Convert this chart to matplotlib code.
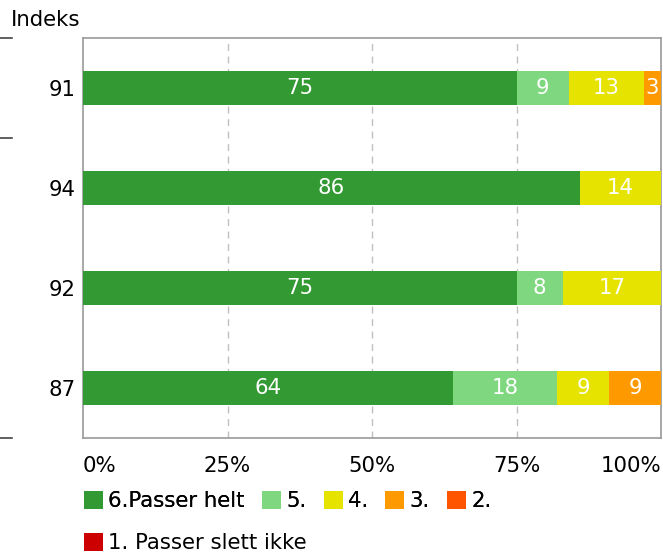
import matplotlib.pyplot as plt
from matplotlib.lines import Line2D
from matplotlib.patches import Patch

categories = ["91", "94", "92", "87"]
series_names = ["6.Passer helt", "5.", "4.", "3.", "2.", "1. Passer slett ikke"]
colors = ["#339933", "#7fd87f", "#e6e300", "#ff9900", "#ff5500", "#cc0000"]
values = [
    [75, 86, 75, 64],   # 6.Passer helt
    [9, 0, 8, 18],      # 5.
    [13, 14, 17, 9],    # 4.
    [3, 0, 0, 9],       # 3.
    [0, 0, 0, 0],       # 2.
    [0, 0, 0, 0],       # 1. Passer slett ikke
]
xticks = [0, 25, 50, 75, 100]
xtick_labels = ["0%", "25%", "50%", "75%", "100%"]

plt.rcParams['font.family'] = ['DejaVu Sans']
FS = 15.3

fig = plt.figure(figsize=(6.63, 5.55), dpi=100)
ax = fig.add_axes([83 / 663, 1 - 438 / 555, (661 - 83) / 663, 400 / 555])

ypos = list(range(len(categories)))
left = [0] * len(categories)
for name, vals, col in zip(series_names, values, colors):
    bars = ax.barh(ypos, vals, left=left, height=0.34, color=col, label=name, zorder=3)
    for b, v in zip(bars, vals):
        if v > 0:
            ax.text(b.get_x() + b.get_width() / 2, b.get_y() + b.get_height() / 2, str(v),
                    ha="center", va="center", color="white", fontsize=FS, zorder=4)
    left = [l + v for l, v in zip(left, vals)]

ax.set_xlim(0, 100)
ax.set_ylim(3.5, -0.5)
ax.set_yticks(ypos)
ax.set_yticklabels(categories, fontsize=FS)
ax.set_xticks(xticks)
ax.set_xticklabels(xtick_labels, fontsize=FS)
ax.tick_params(axis="y", length=0, pad=5.5)
ax.tick_params(axis="x", length=0, pad=13)
labels = ax.get_xticklabels()
labels[0].set_ha("left")
labels[-1].set_ha("right")

for x in [25, 50, 75]:
    ax.axvline(x, color="#c0c0c0", linestyle=(0, (5, 4)), linewidth=1, zorder=1)
for s in ax.spines.values():
    s.set_color("#999999")
    s.set_linewidth(1.2)

fig.text(11 / 663, 1 - 20 / 555, "Indeks", fontsize=FS, ha="left", va="center")

# short marks at far left
for yy in [38, 138, 438]:
    fig.add_artist(Line2D([0, 12 / 663], [1 - yy / 555, 1 - yy / 555],
                          color="#444444", linewidth=1.2))

handles = [Patch(facecolor=c, edgecolor="none") for c in colors]
leg1 = fig.legend(handles[:5], series_names[:5], loc="center left",
                  bbox_to_anchor=(84 / 663, 1 - 501 / 555), ncol=5, frameon=False,
                  fontsize=FS, handlelength=0.9, handleheight=0.9,
                  handletextpad=0.25, columnspacing=0.8, borderpad=0, borderaxespad=0)
fig.add_artist(leg1)
fig.legend(handles[5:], series_names[5:], loc="center left",
           bbox_to_anchor=(84 / 663, 1 - 543 / 555), ncol=1, frameon=False,
           fontsize=FS, handlelength=0.9, handleheight=0.9,
           handletextpad=0.25, borderpad=0, borderaxespad=0)

fig.savefig("out.png", dpi=100)
